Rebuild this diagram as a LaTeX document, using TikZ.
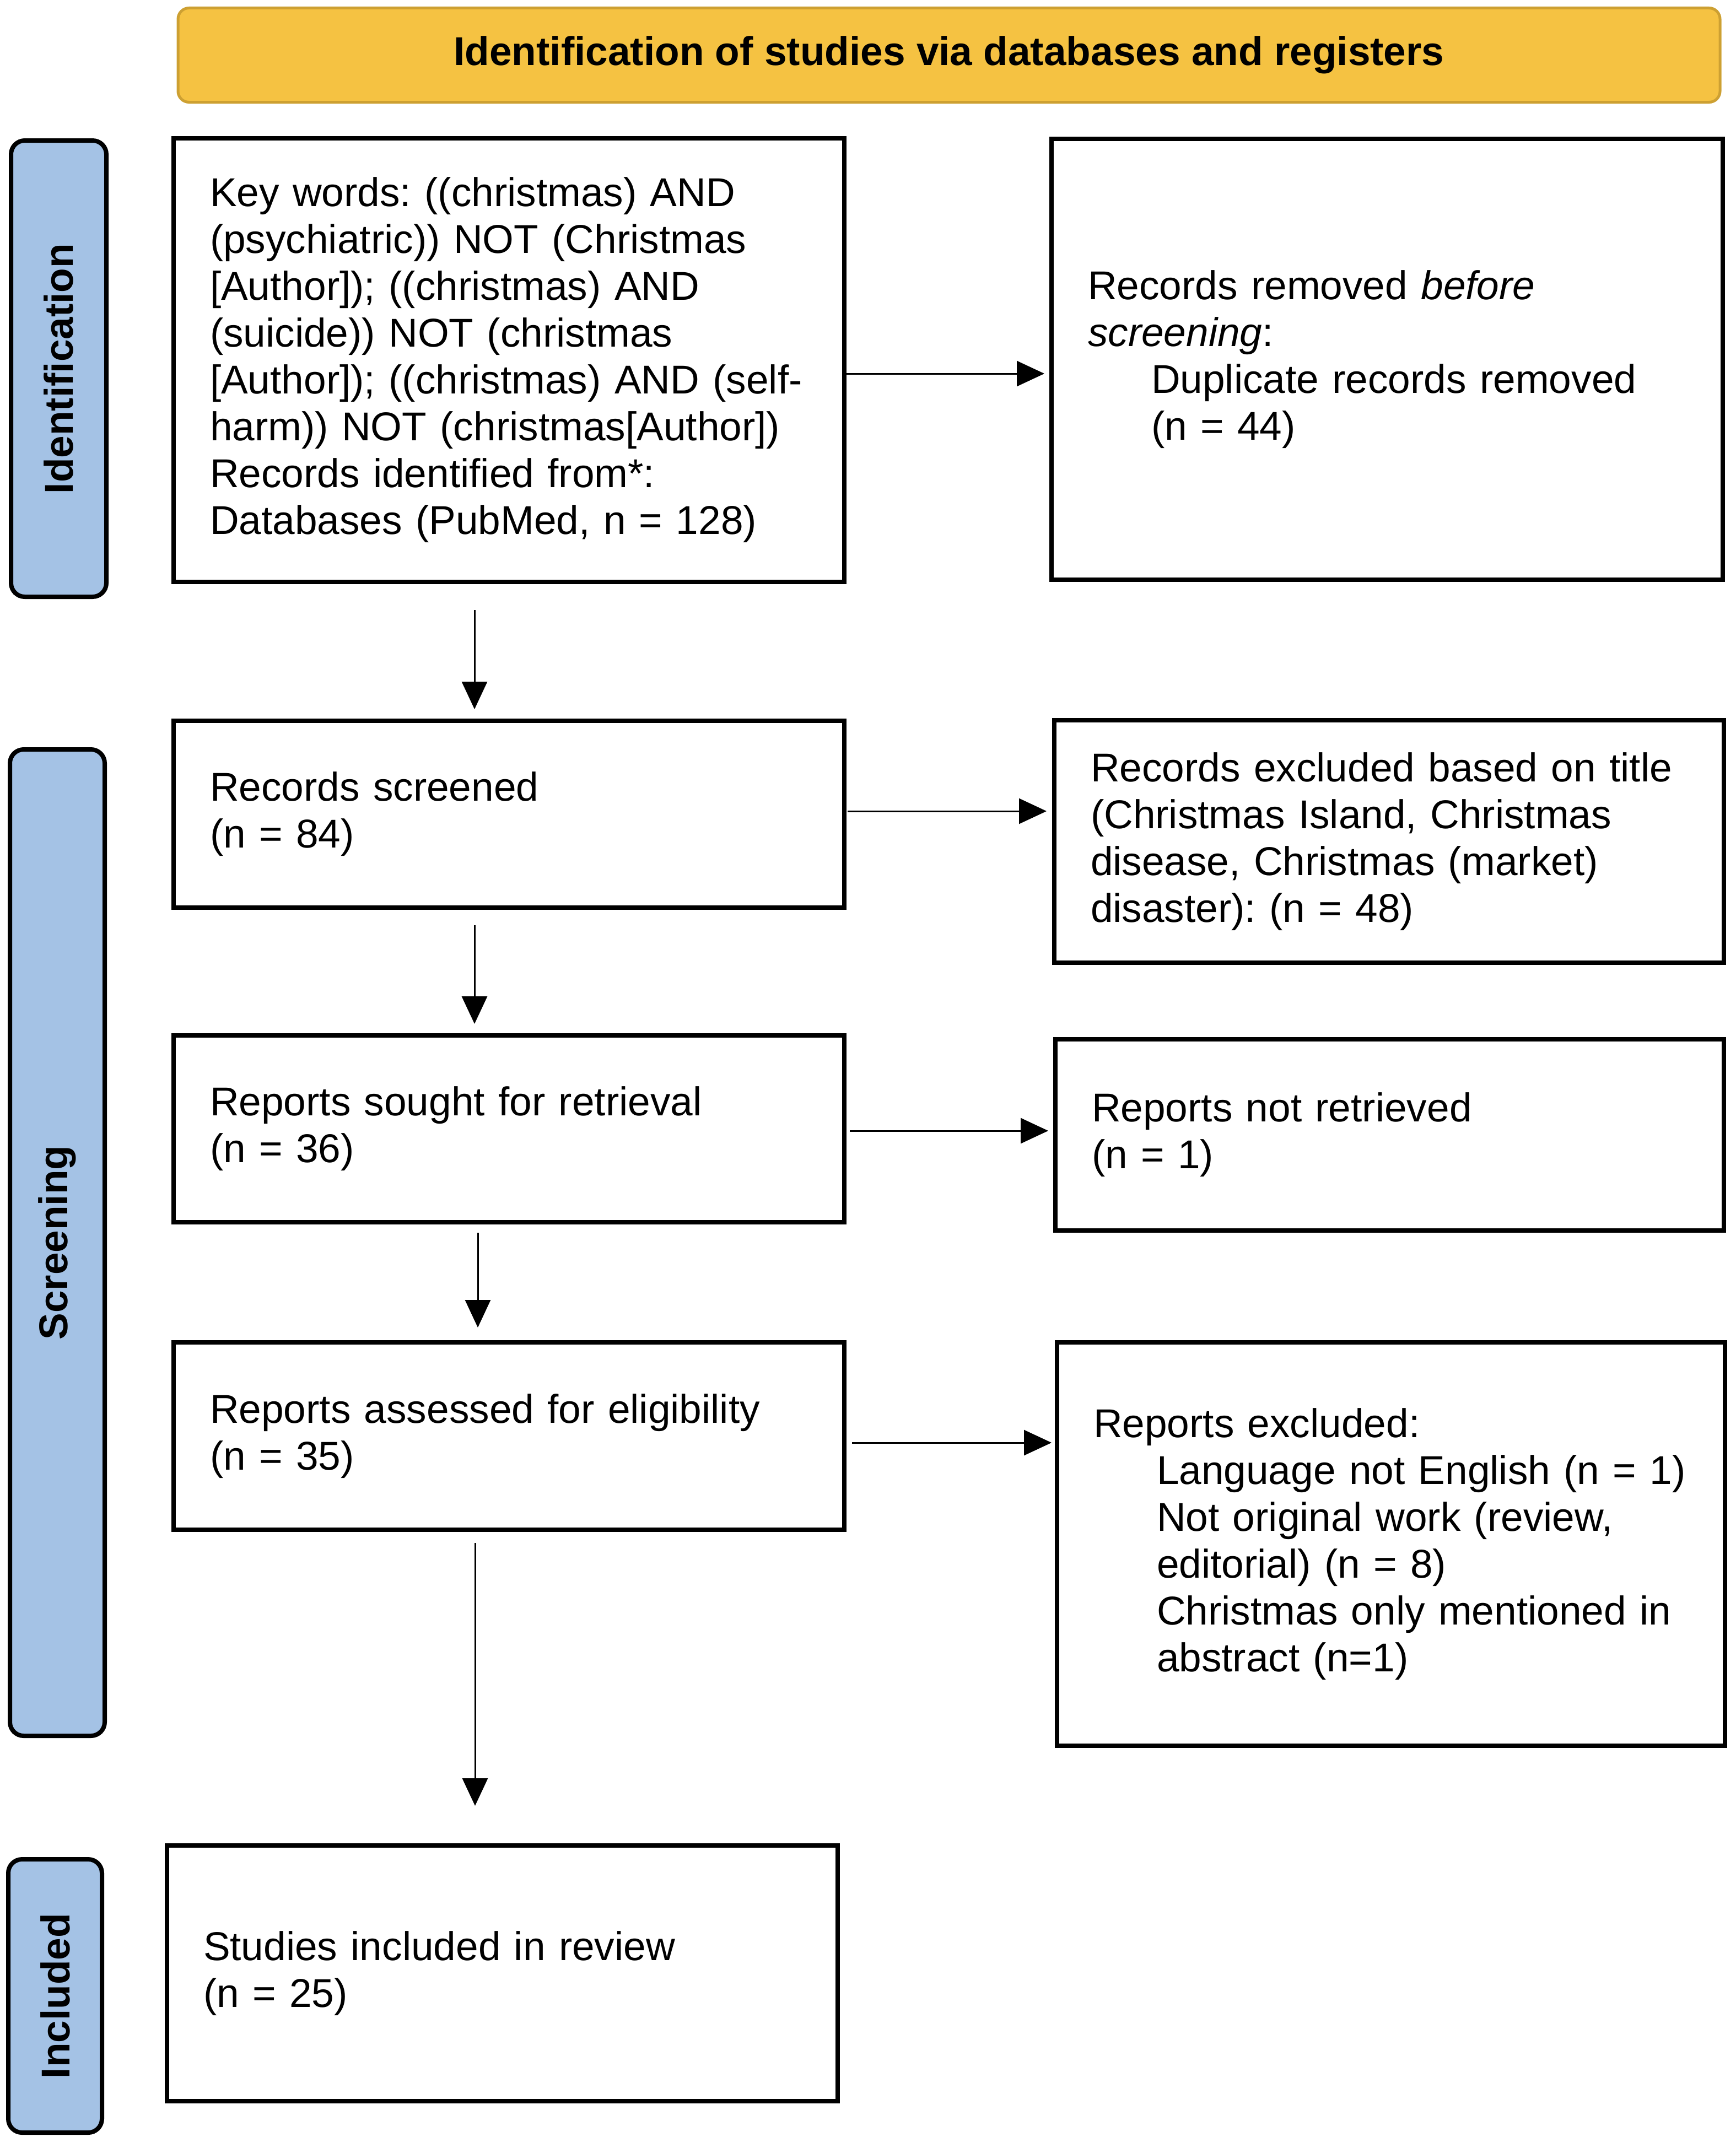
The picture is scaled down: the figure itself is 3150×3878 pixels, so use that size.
\documentclass[tikz,border=0pt]{standalone}
\usepackage{fontspec}
\setmainfont{Liberation Sans}
\usetikzlibrary{arrows.meta}
\definecolor{hdrfill}{RGB}{245,194,66}
\definecolor{hdrline}{RGB}{205,160,50}
\definecolor{sidefill}{RGB}{164,194,229}
\frenchspacing
\begin{document}
\begin{tikzpicture}[x=1pt,y=-1pt,
  every node/.style={outer sep=0pt},
  box/.style={draw=black, line width=8pt, fill=white, align=left, inner xsep=66pt, inner ysep=0pt,
    font=\fontsize{73}{85}\selectfont},
  side/.style={draw=black, line width=8pt, fill=sidefill, rounded corners=25pt, inner sep=0pt,
    font=\fontsize{73}{85}\selectfont\bfseries, rotate=90},
  hdr/.style={draw=hdrline, line width=5pt, fill=hdrfill, rounded corners=20pt, inner sep=0pt,
    font=\fontsize{73}{85}\selectfont\bfseries},
  arr/.style={line width=3pt, -{Triangle[length=50pt,width=46pt]}}
]
\useasboundingbox (0,0) rectangle (3150,3878);
\fill[white] (0,0) rectangle (3150,3878);

% header
\node[hdr, minimum width=2798pt, minimum height=171pt] (hd) at (1722,100)
  {Identification of studies via databases and registers};

% side labels
\node[side, minimum width=828pt, minimum height=173pt] (s1) at (106.5,669) {Identification};
\node[side, minimum width=1790pt, minimum height=172pt] (s2) at (104,2255) {Screening};
\node[side, minimum width=496pt, minimum height=170pt] (s3) at (100,3622) {Included};

% boxes
\node[box, text width=1085pt, minimum height=805pt] (b1) at (923.5,653.5)
  {Key words: ((christmas) AND\\
   (psychiatric)) NOT (Christmas\\{}
   [Author]); ((christmas) AND\\
   (suicide)) NOT (christmas\\{}
   [Author]); ((christmas) AND (self-\\
   harm)) NOT (christmas[Author])\\
   Records identified from*:\\
   Databases (PubMed, n = 128)};
\node[box, text width=1086pt, minimum height=800pt] (b2) at (2517,652)
  {Records removed \textit{before}\\
   \textit{screening}:\\
   \hspace*{115pt}Duplicate records removed\\
   \hspace*{115pt}(n = 44)};
\node[box, text width=1085pt, minimum height=339pt] (b3) at (923.5,1477.5)
  {Records screened\\(n = 84)};
\node[box, text width=1083pt, minimum height=440pt] (b4) at (2520.5,1527)
  {Records excluded based on title\\
   (Christmas Island, Christmas\\
   disease, Christmas (market)\\
   disaster): (n = 48)};
\node[box, text width=1085pt, minimum height=339pt] (b5) at (923.5,2048.5)
  {Reports sought for retrieval\\(n = 36)};
\node[box, text width=1081pt, minimum height=347pt] (b6) at (2521.5,2059.5)
  {Reports not retrieved\\(n = 1)};
\node[box, text width=1080pt, minimum height=732pt] (b8) at (2524,2802)
  {Reports excluded:\\
   \hspace*{115pt}Language not English (n = 1)\\
   \hspace*{115pt}Not original work (review,\\
   \hspace*{115pt}editorial) (n = 8)\\
   \hspace*{115pt}Christmas only mentioned in\\
   \hspace*{115pt}abstract (n=1)};
\node[box, text width=1085pt, minimum height=340pt] (b7) at (923.5,2606)
  {Reports assessed for eligibility\\(n = 35)};
\node[box, text width=1085pt, minimum height=464pt] (b9) at (911.5,3581)
  {Studies included in review\\(n = 25)};

% horizontal arrows
\draw[arr, shorten >=13pt] (b1.east |- 0,678) -- (b2.west |- 0,678);
\draw[arr, shorten <=6pt, shorten >=14pt] (b3.east |- 0,1472) -- (b4.west |- 0,1472);
\draw[arr, shorten <=10pt, shorten >=13pt] (b5.east |- 0,2052) -- (b6.west |- 0,2052);
\draw[arr, shorten <=14pt, shorten >=10pt] (b7.east |- 0,2618) -- (b8.west |- 0,2618);

% vertical arrows
\draw[arr, shorten <=51pt, shorten >=21pt] (b1.south -| 861,0) -- (b3.north -| 861,0);
\draw[arr, shorten <=32pt, shorten >=21pt] (b3.south -| 861,0) -- (b5.north -| 861,0);
\draw[arr, shorten <=19pt, shorten >=27pt] (b5.south -| 867,0) -- (b7.north -| 867,0);
\draw[arr, shorten <=24pt, shorten >=72pt] (b7.south -| 862,0) -- (b9.north -| 862,0);
\end{tikzpicture}
\end{document}
